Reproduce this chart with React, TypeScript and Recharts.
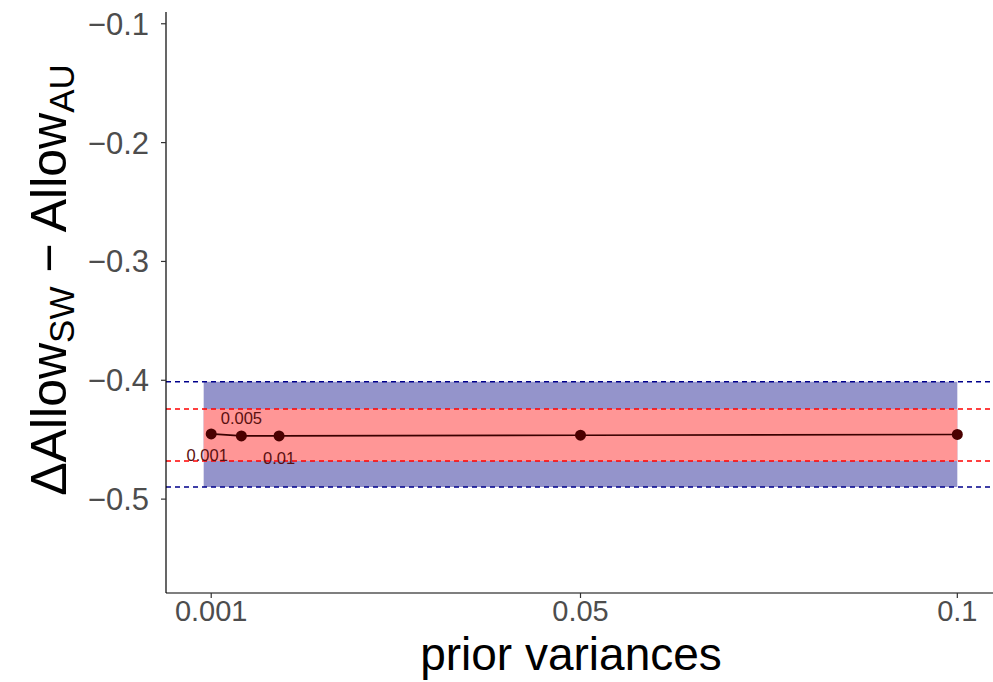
import React from 'react';
import {
  ComposedChart,
  Line,
  XAxis,
  YAxis,
  ReferenceArea,
  ReferenceLine,
  LabelList,
} from 'recharts';

// ---- data ----
const priorVariances = [0.001, 0.005, 0.01, 0.05, 0.1];
const allowDiff = [-0.4451, -0.4468, -0.4468, -0.4462, -0.4456];
const pointLabels = ['0.001', '0.005', '0.01', '', ''];
const xTicks = [0.001, 0.05, 0.1];
const xTickLabels = ['0.001', '0.05', '0.1'];
const yTicks = [-0.1, -0.2, -0.3, -0.4, -0.5];
const yTickLabels = ['\u22120.1', '\u22120.2', '\u22120.3', '\u22120.4', '\u22120.5'];
const bandX = [0, 0.1];
const outerBand = [-0.4897, -0.4013];
const innerBand = [-0.468, -0.4241];

const data = priorVariances.map((x, i) => ({ x, y: allowDiff[i], label: pointLabels[i] }));

const FONT = '"Liberation Sans", Arial, Helvetica, sans-serif';
const POINT_COLOR = '#4a0000';

const labelOffsets = [
  { dx: -4, dy: 27 },
  { dx: 0, dy: -12 },
  { dx: 0, dy: 28 },
  { dx: 0, dy: 0 },
  { dx: 0, dy: 0 },
];

const PointLabel = (props: any) => {
  const { x, y, index, value } = props;
  if (!value) return null;
  const o = labelOffsets[index] || { dx: 0, dy: 0 };
  return (
    <text
      x={x + o.dx}
      y={y + o.dy}
      textAnchor="middle"
      fontSize={16.5}
      fontFamily={FONT}
      fill="#5a1010"
    >
      {value}
    </text>
  );
};

const YTitle = () => (
  <text
    transform="translate(66, 280) rotate(-90)"
    textAnchor="middle"
    fontSize={50}
    fontFamily={FONT}
    fill="#000"
  >
    {'\u0394Allow'}
    <tspan fontSize={35} dy={8}>SW</tspan>
    <tspan dy={-8}>{' \u2212 Allow'}</tspan>
    <tspan fontSize={35} dy={8}>AU</tspan>
  </text>
);

const XTitle = () => (
  <text x={571} y={670} textAnchor="middle" fontSize={46} fontFamily={FONT} fill="#000">
    prior variances
  </text>
);

const Dot = (props: any) => {
  const { cx, cy } = props;
  return <circle cx={cx} cy={cy} r={5.5} fill={POINT_COLOR} />;
};

export default function App() {
  return (
    <div style={{ position: 'absolute', left: 0, top: 0, width: 993, height: 682, overflow: 'hidden', background: '#fff' }}>
      <ComposedChart
        width={1000}
        height={682}
        data={data}
        margin={{ top: 12, right: 5, bottom: 0, left: 0 }}
      >
        <XAxis
          type="number"
          dataKey="x"
          domain={[-0.005, 0.105]}
          ticks={xTicks}
          allowDataOverflow
          height={89}
          tickFormatter={(v: number) => xTickLabels[xTicks.indexOf(v)] ?? String(v)}
          axisLine={{ stroke: '#000', strokeWidth: 1.2 }}
          tickLine={{ stroke: '#333', strokeWidth: 1.2 }}
          tickSize={5}
          tickMargin={2}
          tick={{ fill: '#4d4d4d', fontSize: 29, fontFamily: FONT }}
          label={<XTitle />}
        />
        <YAxis
          type="number"
          domain={[-0.579, -0.0901]}
          ticks={yTicks}
          allowDataOverflow
          width={166}
          tickFormatter={(v: number) => yTickLabels[yTicks.indexOf(v)] ?? String(v)}
          axisLine={{ stroke: '#000', strokeWidth: 1.2 }}
          tickLine={{ stroke: '#333', strokeWidth: 1.2 }}
          tickSize={5}
          tickMargin={12}
          tick={{ fill: '#4d4d4d', fontSize: 31, fontFamily: FONT }}
          label={<YTitle />}
        />
        <ReferenceArea
          x1={bandX[0]}
          x2={bandX[1]}
          y1={outerBand[0]}
          y2={outerBand[1]}
          fill="#9494cb"
          fillOpacity={1}
          stroke="none"
        />
        <ReferenceArea
          x1={bandX[0]}
          x2={bandX[1]}
          y1={innerBand[0]}
          y2={innerBand[1]}
          fill="#ff9696"
          fillOpacity={1}
          stroke="none"
        />
        <ReferenceLine y={outerBand[1]} stroke="#00008b" strokeWidth={1.5} strokeDasharray="5 4" />
        <ReferenceLine y={outerBand[0]} stroke="#00008b" strokeWidth={1.5} strokeDasharray="5 4" />
        <ReferenceLine y={innerBand[1]} stroke="#ff0000" strokeWidth={1.5} strokeDasharray="5 4" />
        <ReferenceLine y={innerBand[0]} stroke="#ff0000" strokeWidth={1.5} strokeDasharray="5 4" />
        <Line
          type="linear"
          dataKey="y"
          stroke="#3a0000"
          strokeWidth={1.6}
          dot={<Dot />}
          activeDot={false}
          isAnimationActive={false}
        >
          <LabelList dataKey="label" content={<PointLabel />} />
        </Line>
      </ComposedChart>
    </div>
  );
}
